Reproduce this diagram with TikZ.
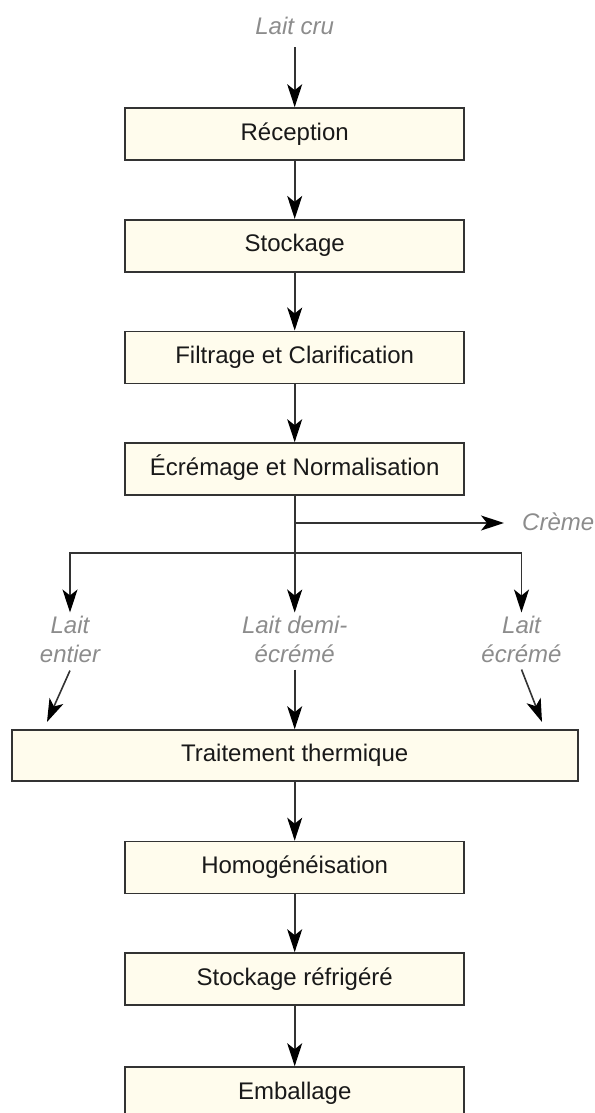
\documentclass[tikz,border=0pt]{standalone}
\usepackage{fontspec}
\setmainfont{Liberation Sans}
\usetikzlibrary{arrows.meta}
\definecolor{boxfill}{RGB}{255,252,237}
\definecolor{linecol}{RGB}{51,51,51}
\definecolor{labelgray}{RGB}{140,140,140}
\begin{document}
\begin{tikzpicture}[x=1pt,y=-1pt,
  stage/.style={draw=linecol, line width=1.6pt, fill=boxfill,
    minimum width=339pt, minimum height=52pt, inner sep=0pt,
    text height=17pt, text depth=5pt,
    font=\fontsize{24}{29}\selectfont, text=black!90},
  flowlabel/.style={inner sep=0pt, text=labelgray,
    font=\fontsize{24}{29}\selectfont\itshape, align=center},
  flow/.style={draw=linecol, line width=1.6pt,
    -{Stealth[length=23pt,width=15pt,inset=6pt,color=black]}},
]
\useasboundingbox (0,0) rectangle (594,1113);
\clip (0,0) rectangle (594,1113);

% process stages
\node[stage] (rec) at (294.7,134)   {Réception};
\node[stage] (sto) at (294.7,245.7) {Stockage};
\node[stage] (fil) at (294.7,357.3) {Filtrage et Clarification};
\node[stage] (ecr) at (294.7,469)   {Écrémage et Normalisation};
\node[stage, minimum width=566pt, minimum height=51pt] (tt) at (294.7,755.5) {Traitement thermique};
\node[stage] (hom) at (294.7,867.5) {Homogénéisation};
\node[stage] (ref) at (294.7,979)   {Stockage réfrigéré};
\node[stage] (emb) at (294.7,1093)  {Emballage};

% product flows
\node[flowlabel, anchor=base] (cru) at (294.7,35) {Lait cru};
\node[flowlabel, anchor=base west] (creme) at (522,530) {Crème};
\node[flowlabel, anchor=north] (entier) at (70,615.5) {Lait\\entier};
\node[flowlabel, anchor=north] (demi) at (294.7,615.5) {Lait demi-\\écrémé};
\node[flowlabel, anchor=north] (ecreme) at (521.5,615.5) {Lait\\écrémé};

\coordinate (cj) at (294.7,523);
\coordinate (bj) at (294.7,552.7);
\coordinate (inL) at (47,722);
\coordinate (inR) at (542,722);

% connectors
\draw[flow, shorten <=12pt] (cru.south) -- (rec.north);
\draw[flow] (rec.south) -- (sto.north);
\draw[flow] (sto.south) -- (fil.north);
\draw[flow] (fil.south) -- (ecr.north);
\draw[flow, shorten >=3pt] (ecr.south) -- (demi.north);
\draw[flow, shorten >=18pt] (cj) -- (cj -| creme.west);
\draw[flow, shorten >=3pt] (bj) -| (entier.north);
\draw[flow, shorten >=3pt] (bj) -| (ecreme.north);
\draw[flow] ([yshift=-8pt]entier.south) -- (inL);
\draw[flow] ([yshift=-7pt]demi.south) -- (tt.north);
\draw[flow] ([yshift=-7pt]ecreme.south) -- (inR);
\draw[flow] (tt.south) -- (hom.north);
\draw[flow] (hom.south) -- (ref.north);
\draw[flow] (ref.south) -- (emb.north);
\end{tikzpicture}
\end{document}
